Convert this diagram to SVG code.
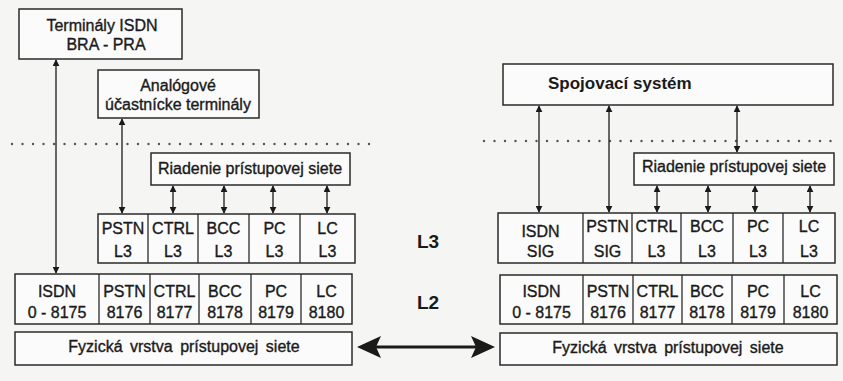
<svg xmlns="http://www.w3.org/2000/svg" width="843" height="381" viewBox="0 0 843 381">
<defs>
<style>
.bx{fill:#fbfbfb;stroke:#2a2a2a;stroke-width:1.5}
.dv{stroke:#2a2a2a;stroke-width:1.3}
.t{font-family:"Liberation Sans",Arial,sans-serif;font-size:16px;fill:#1a1a1a;stroke:#1a1a1a;stroke-width:0.35;text-anchor:middle}
.tb{font-family:"Liberation Sans",Arial,sans-serif;font-weight:bold;fill:#1a1a1a}
.ln{stroke:#2a2a2a;stroke-width:1.4;fill:none}
.dot{stroke:#555;stroke-width:2.4;stroke-linecap:round;stroke-dasharray:0 10.5;fill:none}
</style>
<marker id="ah" viewBox="0 0 10 10" refX="9" refY="5" markerWidth="7" markerHeight="7" markerUnits="userSpaceOnUse" orient="auto-start-reverse">
<path d="M0,0 L10,5 L0,10 z" fill="#1a1a1a"/>
</marker>
</defs>
<rect x="0" y="0" width="843" height="381" fill="#f5f5f3"/>

<g id="connectors">
<line class="dot" x1="12" y1="144" x2="378" y2="144"/>
<line class="dot" x1="484" y1="141" x2="836" y2="141"/>
<line class="ln" x1="56" y1="60" x2="56" y2="273" marker-start="url(#ah)" marker-end="url(#ah)"/>
<line class="ln" x1="122" y1="119" x2="122" y2="213" marker-start="url(#ah)" marker-end="url(#ah)"/>
<line class="ln" x1="173" y1="186" x2="173" y2="213" marker-start="url(#ah)" marker-end="url(#ah)"/>
<line class="ln" x1="224" y1="186" x2="224" y2="213" marker-start="url(#ah)" marker-end="url(#ah)"/>
<line class="ln" x1="273" y1="186" x2="273" y2="213" marker-start="url(#ah)" marker-end="url(#ah)"/>
<line class="ln" x1="327" y1="186" x2="327" y2="213" marker-start="url(#ah)" marker-end="url(#ah)"/>
<line class="ln" x1="539" y1="106" x2="539" y2="212" marker-start="url(#ah)" marker-end="url(#ah)"/>
<line class="ln" x1="609" y1="106" x2="609" y2="212" marker-start="url(#ah)" marker-end="url(#ah)"/>
<line class="ln" x1="737" y1="106" x2="737" y2="152" marker-start="url(#ah)" marker-end="url(#ah)"/>
<line class="ln" x1="657" y1="186" x2="657" y2="212" marker-start="url(#ah)" marker-end="url(#ah)"/>
<line class="ln" x1="708" y1="186" x2="708" y2="212" marker-start="url(#ah)" marker-end="url(#ah)"/>
<line class="ln" x1="755" y1="186" x2="755" y2="212" marker-start="url(#ah)" marker-end="url(#ah)"/>
<line class="ln" x1="810" y1="186" x2="810" y2="212" marker-start="url(#ah)" marker-end="url(#ah)"/>
<line x1="375" y1="347" x2="477" y2="347" stroke="#1a1a1a" stroke-width="3"/>
<path d="M357,347 L381,336 L376,347 L381,358 z" fill="#1a1a1a"/>
<path d="M495,347 L471,336 L476,347 L471,358 z" fill="#1a1a1a"/>
</g>

<g id="terminaly-isdn">
<rect class="bx" x="19" y="9" width="163" height="50"/>
<text class="t" x="102" y="31">Terminály ISDN</text>
<text class="t" x="106" y="50">BRA - PRA</text>
</g>

<g id="analogove">
<rect class="bx" x="98" y="70" width="161" height="48"/>
<text class="t" x="178" y="91">Analógové</text>
<text class="t" x="178" y="110">účastnícke terminály</text>
</g>

<g id="riadenie-left">
<rect class="bx" x="151" y="153" width="199" height="32"/>
<text class="t" x="250" y="174">Riadenie prístupovej siete</text>
</g>

<g id="l3-left">
<rect class="bx" x="98" y="214" width="257" height="49"/>
<line class="dv" x1="148" y1="214" x2="148" y2="263"/>
<line class="dv" x1="198" y1="214" x2="198" y2="263"/>
<line class="dv" x1="249" y1="214" x2="249" y2="263"/>
<line class="dv" x1="300" y1="214" x2="300" y2="263"/>
<text class="t" x="123" y="234">PSTN</text><text class="t" x="123" y="257">L3</text>
<text class="t" x="173" y="234">CTRL</text><text class="t" x="173" y="257">L3</text>
<text class="t" x="223.5" y="234">BCC</text><text class="t" x="223.5" y="257">L3</text>
<text class="t" x="274.5" y="234">PC</text><text class="t" x="274.5" y="257">L3</text>
<text class="t" x="327.5" y="234">LC</text><text class="t" x="327.5" y="257">L3</text>
</g>

<g id="l2-left">
<rect class="bx" x="15" y="274" width="337" height="50"/>
<line class="dv" x1="99" y1="274" x2="99" y2="324"/>
<line class="dv" x1="150" y1="274" x2="150" y2="324"/>
<line class="dv" x1="199" y1="274" x2="199" y2="324"/>
<line class="dv" x1="251" y1="274" x2="251" y2="324"/>
<line class="dv" x1="301" y1="274" x2="301" y2="324"/>
<text class="t" x="57" y="297">ISDN</text><text class="t" x="57" y="318">0 - 8175</text>
<text class="t" x="124.5" y="297">PSTN</text><text class="t" x="124.5" y="318">8176</text>
<text class="t" x="174.5" y="297">CTRL</text><text class="t" x="174.5" y="318">8177</text>
<text class="t" x="225" y="297">BCC</text><text class="t" x="225" y="318">8178</text>
<text class="t" x="276" y="297">PC</text><text class="t" x="276" y="318">8179</text>
<text class="t" x="326.5" y="297">LC</text><text class="t" x="326.5" y="318">8180</text>
</g>

<g id="fyzicka-left">
<rect class="bx" x="15" y="332" width="337" height="33"/>
<text class="t" x="184" y="352" word-spacing="3">Fyzická vrstva prístupovej siete</text>
</g>

<g id="layer-labels">
<text class="tb" x="428" y="248" font-size="19" text-anchor="middle">L3</text>
<text class="tb" x="428" y="309" font-size="19" text-anchor="middle">L2</text>
</g>

<g id="spojovaci">
<rect class="bx" x="503" y="64" width="330" height="41"/>
<text class="tb" x="548" y="89" font-size="17">Spojovací systém</text>
</g>

<g id="riadenie-right">
<rect class="bx" x="634" y="153" width="200" height="32"/>
<text class="t" x="734" y="172">Riadenie prístupovej siete</text>
</g>

<g id="l3-right">
<rect class="bx" x="498" y="213" width="337" height="50"/>
<line class="dv" x1="583" y1="213" x2="583" y2="263"/>
<line class="dv" x1="632" y1="213" x2="632" y2="263"/>
<line class="dv" x1="681" y1="213" x2="681" y2="263"/>
<line class="dv" x1="733" y1="213" x2="733" y2="263"/>
<line class="dv" x1="783" y1="213" x2="783" y2="263"/>
<text class="t" x="540.5" y="237">ISDN</text><text class="t" x="540.5" y="257">SIG</text>
<text class="t" x="607.5" y="232">PSTN</text><text class="t" x="607.5" y="257">SIG</text>
<text class="t" x="656.5" y="232">CTRL</text><text class="t" x="656.5" y="257">L3</text>
<text class="t" x="707" y="232">BCC</text><text class="t" x="707" y="257">L3</text>
<text class="t" x="758" y="232">PC</text><text class="t" x="758" y="257">L3</text>
<text class="t" x="809" y="232">LC</text><text class="t" x="809" y="257">L3</text>
</g>

<g id="l2-right">
<rect class="bx" x="500" y="275" width="337" height="49"/>
<line class="dv" x1="583" y1="275" x2="583" y2="324"/>
<line class="dv" x1="633" y1="275" x2="633" y2="324"/>
<line class="dv" x1="682" y1="275" x2="682" y2="324"/>
<line class="dv" x1="732" y1="275" x2="732" y2="324"/>
<line class="dv" x1="784" y1="275" x2="784" y2="324"/>
<text class="t" x="541.5" y="297">ISDN</text><text class="t" x="541.5" y="318">0 - 8175</text>
<text class="t" x="608" y="297">PSTN</text><text class="t" x="608" y="318">8176</text>
<text class="t" x="657.5" y="297">CTRL</text><text class="t" x="657.5" y="318">8177</text>
<text class="t" x="707" y="297">BCC</text><text class="t" x="707" y="318">8178</text>
<text class="t" x="758" y="297">PC</text><text class="t" x="758" y="318">8179</text>
<text class="t" x="810.5" y="297">LC</text><text class="t" x="810.5" y="318">8180</text>
</g>

<g id="fyzicka-right">
<rect class="bx" x="500" y="333" width="337" height="32"/>
<text class="t" x="668" y="353" word-spacing="3">Fyzická vrstva prístupovej siete</text>
</g>
</svg>
